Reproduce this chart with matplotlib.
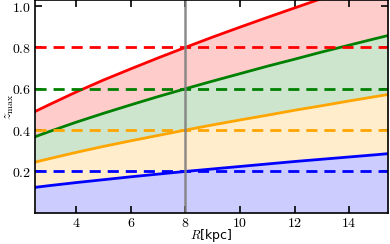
import numpy as np
import matplotlib
matplotlib.use('Agg')
import matplotlib.pyplot as plt

plt.rcParams['mathtext.fontset'] = 'cm'
plt.rcParams['font.size'] = 10

# galactocentric radius [kpc] and z_max
R = [2.5, 3, 4, 5, 6, 7, 8, 9, 10, 11, 12, 13, 14, 15, 15.5]
z_blue = [0.123, 0.131, 0.146, 0.160, 0.174, 0.187, 0.2, 0.212, 0.224,
          0.236, 0.248, 0.259, 0.270, 0.281, 0.287]
z_orange = [0.245, 0.261, 0.292, 0.321, 0.348, 0.374, 0.4, 0.425, 0.449,
            0.472, 0.496, 0.518, 0.541, 0.563, 0.574]
z_green = [0.368, 0.392, 0.438, 0.481, 0.522, 0.562, 0.6, 0.637, 0.673,
           0.709, 0.743, 0.778, 0.811, 0.844, 0.860]
z_red = [0.490, 0.522, 0.584, 0.642, 0.696, 0.749, 0.8, 0.850, 0.898,
         0.945, 0.991, 1.037, 1.082, 1.126, 1.147]

z_sun = [0.2, 0.4, 0.6, 0.8]
colors = ['blue', 'orange', 'green', 'red']
R_sun = 8

xticks = [4, 6, 8, 10, 12, 14]
yticks = [0.2, 0.4, 0.6, 0.8, 1.0]

fig = plt.figure(figsize=(3.9, 2.44), dpi=100)
ax = fig.add_axes([0.09, 0.128, 0.905, 0.870])

curves = [z_blue, z_orange, z_green, z_red]
lower = np.zeros(len(R))
for z, c in zip(curves, colors):
    ax.fill_between(R, lower, z, color=c, alpha=0.2, lw=0)
    ax.plot(R, z, color=c, lw=2)
    lower = np.array(z)

for zs, c in zip(z_sun, colors):
    ax.axhline(zs, color=c, lw=2, ls=(0, (4, 2.5)))

ax.axvline(R_sun, color='gray', lw=1.8, alpha=0.9)

ax.set_xlim(2.5, 15.42)
ax.set_ylim(0.0, 1.027)
ax.set_xticks(xticks)
ax.set_xticklabels(['$%d$' % t for t in xticks])
ax.set_yticks(yticks)
ax.set_yticklabels(['$%.1f$' % t for t in yticks])
ax.tick_params(direction='in', top=True, right=True, length=5, width=1.2,
               labelsize=10, pad=2.5)
for s in ax.spines.values():
    s.set_linewidth(1.2)

ax.set_xlabel('$R$[kpc]', fontsize=9)
ax.set_ylabel(r'$z_{\rm max}$', fontsize=10)
ax.xaxis.set_label_coords(0.5, -0.068)
ax.yaxis.set_label_coords(-0.055, 0.5)

fig.savefig('out.png', dpi=100)
